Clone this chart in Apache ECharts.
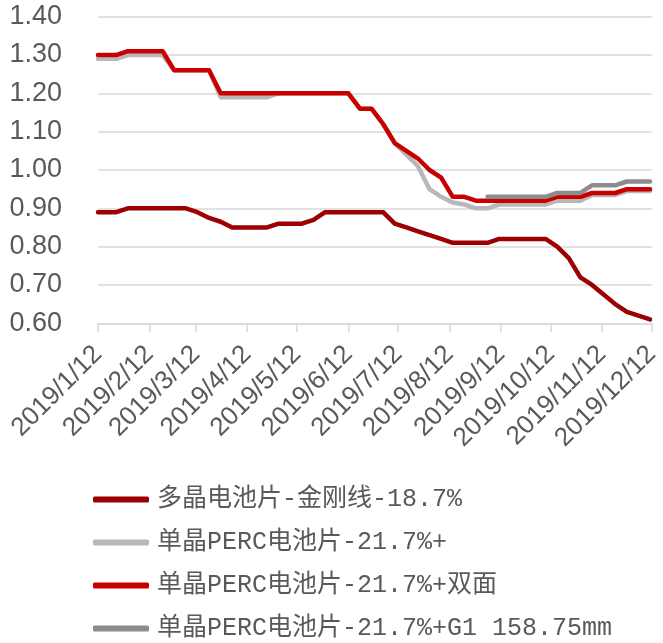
<!DOCTYPE html>
<html>
<head>
<meta charset="utf-8">
<script src="https://cdn.jsdelivr.net/npm/echarts@6/dist/echarts.min.js"></script>
<style>
html,body{margin:0;padding:0;background:#fff;}
#chart{width:663px;height:643px;}
</style>
</head>
<body>
<div id="chart"></div>
<script>
// Weekly price dates (2019)
const dates = [
  '2019-01-12','2019-01-16','2019-01-23','2019-01-30','2019-02-06','2019-02-13','2019-02-20','2019-02-27',
  '2019-03-06','2019-03-13','2019-03-20','2019-03-27','2019-04-03','2019-04-10','2019-04-17','2019-04-24',
  '2019-05-01','2019-05-08','2019-05-15','2019-05-22','2019-05-29','2019-06-05','2019-06-12','2019-06-19',
  '2019-06-26','2019-07-03','2019-07-10','2019-07-17','2019-07-24','2019-07-31','2019-08-07','2019-08-14',
  '2019-08-21','2019-08-28','2019-09-04','2019-09-11','2019-09-18','2019-09-25','2019-10-02','2019-10-09',
  '2019-10-16','2019-10-23','2019-10-30','2019-11-06','2019-11-13','2019-11-20','2019-11-27','2019-12-04',
  '2019-12-11'
];

const seriesNames = [
  '多晶电池片-金刚线-18.7%',
  '单晶PERC电池片-21.7%+',
  '单晶PERC电池片-21.7%+双面',
  '单晶PERC电池片-21.7%+G1 158.75mm'
];

const polyValues = [
  0.89,0.89,0.89,0.90,0.90,0.90,0.90,0.90,
  0.90,0.89,0.875,0.865,0.85,0.85,0.85,0.85,
  0.86,0.86,0.86,0.87,0.89,0.89,0.89,0.89,
  0.89,0.89,0.86,0.85,0.84,0.83,0.82,0.81,
  0.81,0.81,0.81,0.82,0.82,0.82,0.82,0.82,
  0.80,0.77,0.72,0.70,0.675,0.65,0.63,0.62,
  0.61
];

const monoValues = [
  1.29,1.29,1.29,1.30,1.30,1.30,1.30,1.26,
  1.26,1.26,1.26,1.19,1.19,1.19,1.19,1.19,
  1.20,1.20,1.20,1.20,1.20,1.20,1.20,1.16,
  1.16,1.12,1.07,1.04,1.01,0.95,0.93,0.915,
  0.91,0.90,0.90,0.91,0.91,0.91,0.91,0.91,
  0.92,0.92,0.92,0.935,0.935,0.935,0.945,0.945,
  0.945
];

const bifacialValues = [
  1.30,1.30,1.30,1.31,1.31,1.31,1.31,1.26,
  1.26,1.26,1.26,1.20,1.20,1.20,1.20,1.20,
  1.20,1.20,1.20,1.20,1.20,1.20,1.20,1.16,
  1.16,1.12,1.07,1.05,1.03,1.00,0.98,0.93,
  0.93,0.92,0.92,0.92,0.92,0.92,0.92,0.92,
  0.93,0.93,0.93,0.94,0.94,0.94,0.95,0.95,
  0.95
];

const g1Values = [
  null,null,null,null,null,null,null,null,
  null,null,null,null,null,null,null,null,
  null,null,null,null,null,null,null,null,
  null,null,null,null,null,null,null,null,
  null,null,0.93,0.93,0.93,0.93,0.93,0.93,
  0.94,0.94,0.94,0.96,0.96,0.96,0.97,0.97,
  0.97
];

const tickDates = [
  '2019-01-12','2019-02-12','2019-03-12','2019-04-12','2019-05-12','2019-06-12',
  '2019-07-12','2019-08-12','2019-09-12','2019-10-12','2019-11-12','2019-12-12'
];

const yMin = 0.6, yMax = 1.4, yStep = 0.1;

const colors = ['#9C0000', '#B8B8B8', '#C80000', '#8C8C8C'];

const DAY = 86400000;
function ts(s) {
  const p = s.split('-').map(Number);
  return Date.UTC(p[0], p[1] - 1, p[2]) / DAY;   // day number
}
function pairs(vals) {
  return dates.map((d, i) => [ts(d), vals[i] == null ? '-' : vals[i]]);
}
const tickVals = tickDates.map(ts);

const sansFont = "'Liberation Sans', 'Noto Sans CJK SC', sans-serif";
const monoFont = "'Liberation Mono', 'Noto Sans CJK SC', monospace";
const textColor = '#595959';
const gridColor = '#D9D9D9';

const chart = echarts.init(document.getElementById('chart'));
const allValues = [polyValues, monoValues, bifacialValues, g1Values];

chart.setOption({
  animation: false,
  color: colors,
  grid: { left: 98, right: 10, top: 16.7, bottom: 319.7 },
  xAxis: {
    type: 'value',
    min: tickVals[0],
    max: tickVals[tickVals.length - 1],
    axisLine: { show: true, lineStyle: { color: gridColor, width: 1.5 } },
    axisTick: { show: true, length: 9, lineStyle: { color: gridColor, width: 1.5 }, customValues: tickVals },
    axisLabel: {
      customValues: tickVals,
      rotate: 45,
      margin: 27,
      fontSize: 26,
      fontFamily: sansFont,
      color: textColor,
      hideOverlap: false,
      showMinLabel: true,
      showMaxLabel: true,
      formatter: function (v) {
        const d = new Date(Math.round(v) * DAY);
        return d.getUTCFullYear() + '/' + (d.getUTCMonth() + 1) + '/' + d.getUTCDate();
      }
    },
    splitLine: { show: false }
  },
  yAxis: {
    type: 'value',
    min: yMin, max: yMax, interval: yStep,
    axisLine: { show: false },
    axisTick: { show: false },
    axisLabel: {
      margin: 36,
      fontSize: 27,
      fontFamily: sansFont,
      color: textColor,
      formatter: v => v.toFixed(2)
    },
    splitLine: { show: true, lineStyle: { color: gridColor, width: 1.5 } }
  },
  legend: {
    orient: 'vertical',
    left: 93,
    top: 487,
    padding: 0,
    itemGap: 18,
    itemWidth: 56,
    itemHeight: 6,
    icon: 'roundRect',
    data: seriesNames,
    textStyle: {
      fontSize: 25,
      lineHeight: 25,
      fontFamily: monoFont,
      color: textColor,
      padding: [0, 0, 0, 3]
    }
  },
  series: seriesNames.map((name, i) => ({
    name: name,
    type: 'line',
    data: pairs(allValues[i]),
    symbol: 'none',
    showSymbol: false,
    connectNulls: false,
    lineStyle: { width: 4.5, color: colors[i], cap: 'round', join: 'round' },
    itemStyle: { color: colors[i] },
    z: 2 + i
  }))
});
</script>
</body>
</html>
